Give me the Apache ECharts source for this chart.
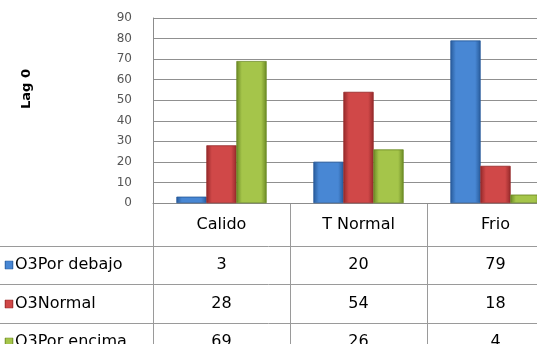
<!DOCTYPE html>
<html><head><meta charset="utf-8">
<script src="https://cdn.jsdelivr.net/npm/echarts@6/dist/echarts.min.js"></script>
<style>html,body{margin:0;padding:0;background:#fff;overflow:hidden}#c{width:537px;height:344px}</style>
</head><body><div id="c"></div>
<script>
// ---- data ----
const categories = ['Calido', 'T Normal', 'Frio'];
const seriesNames = ['O3Por debajo', 'O3Normal', 'O3Por encima'];
const porDebajo = [3, 20, 79];
const normalVals = [28, 54, 18];
const porEncima = [69, 26, 4];
const yMin = 0, yMax = 90, yStep = 10;
const axisTitle = 'Lag 0';

const seriesData = [porDebajo, normalVals, porEncima];
const palette = [
  {edge: '#285c9c', mid: '#4887d4'},
  {edge: '#962a2b', mid: '#d04848'},
  {edge: '#6c8a26', mid: '#a5c54a'}
];
function grad(p) {
  return new echarts.graphic.LinearGradient(0, 0, 1, 0, [
    {offset: 0, color: p.edge}, {offset: 0.18, color: p.mid},
    {offset: 0.82, color: p.mid}, {offset: 1, color: p.edge}
  ]);
}

const chart = echarts.init(document.getElementById('c'), null, {renderer: 'canvas'});
const gridTop = 18, gridBottomY = 203;
chart.setOption({
  animation: false,
  backgroundColor: '#fff',
  grid: {left: 153, right: -27, top: gridTop, bottom: 344 - gridBottomY, outerBoundsMode: 'none', containLabel: false},
  xAxis: {
    type: 'category', data: categories,
    axisLine: {lineStyle: {color: '#8c8c8c', width: 1}},
    axisTick: {show: false}, axisLabel: {show: false}
  },
  yAxis: {
    type: 'value', min: yMin, max: yMax, interval: yStep,
    axisLine: {show: true, lineStyle: {color: '#8c8c8c'}},
    axisTick: {show: false},
    splitLine: {lineStyle: {color: '#909090', width: 1.2}},
    axisLabel: {color: '#555', fontFamily: 'DejaVu Sans', fontSize: 12, margin: 21}
  },
  series: seriesData.map((d, i) => ({
    name: seriesNames[i], type: 'bar', data: d,
    barGap: '0%', barWidth: 30,
    itemStyle: {color: grad(palette[i]), borderColor: palette[i].edge, borderWidth: 0.5}
  }))
});

// ---- data table drawn below the plot ----
const centers = categories.map((c, j) => chart.convertToPixel({gridIndex: 0}, [j, 0])[0]);
const band = centers[1] - centers[0];
const rowLines = [246, 284, 323];
const rowCenters = [265, 304, 342];
const headerCenter = 225;
const font = '16px "DejaVu Sans"';
const g = [];
const lineStyle = {stroke: '#9a9a9a', lineWidth: 1};
const vx = [centers[0] - band / 2].concat(centers.map(c => c + band / 2));
vx.forEach(x => g.push({type: 'line', shape: {x1: Math.round(x) + 0.5, y1: gridBottomY, x2: Math.round(x) + 0.5, y2: 344}, style: lineStyle, silent: true}));
rowLines.forEach(y => g.push({type: 'line', shape: {x1: 0, y1: y + 0.5, x2: 537, y2: y + 0.5}, style: lineStyle, silent: true}));
categories.forEach((c, j) => g.push({type: 'text', x: centers[j], y: headerCenter,
  style: {text: c, font: font, fill: '#000', align: 'center', verticalAlign: 'middle'}}));
seriesNames.forEach((n, i) => {
  g.push({type: 'rect', shape: {x: 5, y: rowCenters[i] - 4, width: 8, height: 8},
    style: {fill: grad(palette[i]), stroke: palette[i].edge, lineWidth: 0.5}});
  g.push({type: 'text', x: 15, y: rowCenters[i], style: {text: n, font: font, fill: '#000', align: 'left', verticalAlign: 'middle'}});
  seriesData[i].forEach((v, j) => g.push({type: 'text', x: centers[j], y: rowCenters[i],
    style: {text: String(v), font: font, fill: '#000', align: 'center', verticalAlign: 'middle'}}));
});
g.push({type: 'text', x: 27, y: 89, rotation: Math.PI / 2,
  style: {text: axisTitle, font: 'bold 13px "DejaVu Sans"', fill: '#000', align: 'center', verticalAlign: 'middle'}});
chart.setOption({graphic: g});
</script></body></html>
